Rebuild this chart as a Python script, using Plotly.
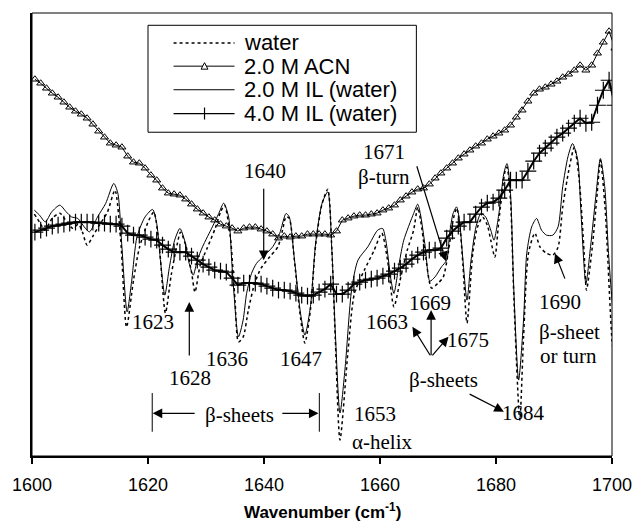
import plotly.graph_objects as go

# ---------------- data (second-derivative signal, arbitrary units) ----------------
# 2.0 M ACN and 4.0 M IL are sampled every 1 cm-1 starting at 1600.5
grid_x = [1600.5 + k for k in range(101)]

acn_y = [-79, -83, -88, -93, -97, -102, -107, -111, -114, -118,
         -124, -131, -137, -143, -145, -147, -156, -162, -163, -168,
         -175, -180, -188, -193, -194, -195, -199, -204, -209, -213,
         -217, -220, -224, -226, -228, -231, -228, -227, -227, -229,
         -231, -234, -238, -236, -237, -236, -236, -234, -234, -234,
         -234, -235, -231, -220, -218, -216, -215, -215, -214, -213,
         -210, -208, -205, -200, -196, -192, -189, -188, -184, -178,
         -173, -168, -163, -158, -154, -150, -146, -143, -139, -136,
         -133, -130, -125, -117, -110, -101, -93, -89, -87, -84,
         -81, -77, -74, -70, -65, -70, -65, -53, -42, -31,
         -48]

il4_y = [-232, -230, -228, -226, -225, -224, -223, -222, -222, -222,
         -222, -223, -223, -224, -224, -226, -233, -235, -235, -237,
         -239, -240, -245, -249, -252, -252, -252, -256, -260, -264,
         -267, -270, -271, -272, -278, -285, -283, -283, -283, -284,
         -286, -288, -290, -290, -291, -293, -295, -296, -295, -292,
         -289, -284, -294, -294, -290, -284, -282, -280, -279, -278,
         -276, -274, -271, -268, -264, -259, -255, -252, -250, -250,
         -248, -238, -231, -226, -222, -222, -214, -207, -203, -202,
         -198, -190, -180, -180, -180, -171, -161, -153, -148, -143,
         -137, -133, -128, -123, -118, -123, -122, -105, -90, -80,
         -105]

il2_x = [1600.4, 1601.3, 1602.3, 1603.4, 1604.8, 1605.9, 1606.8, 1607.9, 1609.0, 1609.9,
         1611.3, 1612.7, 1614.1, 1614.8, 1615.5, 1616.4, 1617.2, 1618.1, 1619.5, 1620.8,
         1621.5, 1622.2, 1622.9, 1623.7, 1624.6, 1625.5, 1626.3, 1627.1, 1627.8, 1628.5,
         1629.4, 1631.1, 1632.2, 1633.05, 1633.9, 1634.5, 1635.6, 1636.4, 1637.0, 1637.85,
         1638.7, 1639.8, 1641.5, 1642.7, 1643.8, 1644.35, 1645.2, 1646.3, 1647.05, 1648.0,
         1648.9, 1650.0, 1651.0, 1651.7, 1652.3, 1653.1, 1654.0, 1655.1, 1656.2, 1657.9,
         1659.6, 1660.45, 1661.0, 1661.9, 1662.4, 1663.3, 1664.1, 1665.8, 1666.5, 1666.95,
         1667.8, 1668.6, 1669.5, 1670.6, 1671.5, 1672.0, 1672.6, 1673.2, 1673.7, 1674.3,
         1675.0, 1675.7, 1676.55, 1677.4, 1678.2, 1679.1, 1679.65, 1680.5, 1681.35, 1681.9,
         1682.5, 1683.05, 1683.9, 1684.75, 1685.3, 1686.15, 1687.0, 1687.85, 1688.7, 1689.8,
         1690.7, 1691.5, 1692.4, 1693.2, 1694.1, 1694.6, 1695.5, 1696.3, 1697.2, 1698.0,
         1698.75, 1699.4, 1700.0, 1700.5]
il2_y = [-210, -215, -221.7, -211.7, -205, -211.7, -216.7, -218.3, -226.7, -231.7,
         -216.7, -203.3, -183.3, -193, -246.7, -311.7, -280, -236.7, -216.7, -209.3,
         -223.3, -263.3, -295, -266.7, -240, -228.3, -240, -263.3, -275, -260,
         -246.7, -226.7, -213.3, -203, -216.7, -266.7, -336.7, -320, -293.3, -273.3,
         -263.3, -256.7, -246.7, -233.3, -213.3, -216.7, -256.7, -313.3, -335, -306.7,
         -243.3, -203.3, -191.7, -250, -333, -413, -366.7, -290, -260, -246.7,
         -230, -228.3, -240, -280, -293.3, -263.3, -240, -213.3, -204, -213.3,
         -246.7, -281, -276.7, -266.7, -260, -233.3, -213.3, -206.7, -220, -260,
         -300, -260, -226.7, -213.3, -216.7, -230, -240, -213.3, -173.3, -163.3,
         -193.3, -286.7, -380, -320, -253.3, -226.7, -218.3, -230, -235, -235,
         -226.7, -186.7, -156.7, -143.3, -160, -206.7, -283.3, -246.7, -196.7, -158.3,
         -186.7, -253.3, -300, -330]

water_x = [1600.4, 1601.3, 1602.2, 1603.5, 1604.8, 1606.0, 1607.0, 1608.0, 1608.7, 1609.5,
           1610.5, 1611.5, 1613.0, 1614.3, 1615.3, 1616.3, 1617.5, 1618.5, 1620.0, 1621.0,
           1622.0, 1623.0, 1624.0, 1625.0, 1625.6, 1626.5, 1627.5, 1628.1, 1629.0, 1630.2,
           1631.6, 1632.5, 1633.2, 1634.2, 1635.0, 1635.6, 1636.4, 1637.3, 1638.4, 1639.5,
           1641.0, 1642.4, 1643.2, 1643.8, 1644.35, 1645.2, 1646.3, 1647.05, 1648.0, 1648.9,
           1650.0, 1651.0, 1651.7, 1652.3, 1653.1, 1654.5, 1655.6, 1657.3, 1659.0, 1660.3,
           1661.3, 1662.4, 1663.6, 1664.7, 1665.8, 1666.5, 1667.0, 1667.8, 1668.9, 1670.0,
           1670.9, 1671.75, 1672.6, 1673.2, 1673.7, 1674.3, 1675.0, 1676.0, 1676.8, 1677.7,
           1678.5, 1679.1, 1679.8, 1680.5, 1681.6, 1681.9, 1682.5, 1683.1, 1684.1, 1684.75,
           1685.6, 1686.7, 1687.6, 1688.7, 1689.8, 1690.7, 1691.5, 1692.65, 1693.5, 1694.35,
           1695.2, 1695.6, 1696.6, 1697.45, 1698.0, 1698.8, 1700.0, 1700.5]
water_y = [-214, -222, -230, -218, -213, -222, -228, -224, -232, -245,
           -236, -226, -212, -190, -240, -327, -280, -248, -222, -212,
           -250, -313, -275, -245, -232, -245, -272, -292, -265, -248,
           -228, -212, -205, -237, -300, -341.7, -337, -310, -283, -268,
           -256.7, -246.7, -230, -216.7, -218, -258, -318, -343, -310, -245,
           -204, -189, -250, -340, -440, -350, -293, -270, -250, -233,
           -260, -306.7, -276.7, -250, -230, -207, -220, -253, -288, -283,
           -277, -253, -220, -208, -222, -265, -323, -253, -227, -217,
           -225, -240, -257, -220, -170, -167, -200, -300, -420, -337,
           -253, -233, -247, -253, -255, -247, -207, -167, -147, -180,
           -253, -290, -247, -193, -160, -207, -340, -365]

series_names = ["water", "2.0 M ACN", "2.0 M IL (water)", "4.0 M IL (water)"]
x_ticks = [1600, 1620, 1640, 1660, 1680, 1700]

# ---------------- figure ----------------
fig = go.Figure()
fig.add_trace(go.Scatter(x=water_x, y=water_y, name=series_names[0], mode="lines",
                         line=dict(color="black", width=1.5, dash="dot", shape="spline", smoothing=0.7)))
fig.add_trace(go.Scatter(x=grid_x, y=acn_y, name=series_names[1], mode="lines+markers",
                         line=dict(color="black", width=1),
                         marker=dict(symbol="triangle-up-open", size=7, color="black",
                                     line=dict(width=1, color="black"))))
fig.add_trace(go.Scatter(x=il2_x, y=il2_y, name=series_names[2], mode="lines",
                         line=dict(color="black", width=1, shape="spline", smoothing=0.7)))
fig.add_trace(go.Scatter(x=grid_x, y=il4_y, name=series_names[3], mode="lines+markers",
                         line=dict(color="black", width=2),
                         marker=dict(symbol="cross-thin-open", size=12, color="black",
                                     line=dict(width=1.2, color="black"))))

# layout helpers: pixel position in the 644x524 canvas -> paper coordinates
L, R, T, B = 30, 620, 12.7, 456.0
def px(x):
    return (x - L) / (R - L)
def py(y):
    return (B - y) / (B - T)

serif = "Liberation Serif, Times New Roman, serif"
sans = "Liberation Sans, Arial, sans-serif"
AF = dict(family=serif, size=21, color="black")

labels = [
    ("1623", 1620.85, -322), ("1628", 1627.2, -378), ("1636", 1633.6, -359),
    ("1647", 1646.45, -359), ("1640", 1640.1, -171), ("1653", 1659.15, -414),
    ("α-helix", 1660.4, -442), ("1663", 1661.27, -322), ("1669", 1668.65, -303),
    ("1675", 1675.2, -340), ("β-sheets", 1670.9, -380), ("1684", 1684.75, -413),
    ("1690", 1691.0, -302), ("β-sheet", 1692.7, -332), ("or turn", 1692.5, -356),
    ("1671", 1660.76, -152), ("β-turn", 1660.7, -177), ("β-sheets", 1635.8, -415),
]
anns = []
for t, x, y in labels:
    anns.append(dict(text=t, x=x, y=y, xref="x", yref="y", showarrow=False,
                     font=AF, xanchor="center", yanchor="middle"))

arrows = [  # (tail x, tail y, tip x, tip y)
    (1627.12, -357, 1627.12, -302),
    (1639.95, -187, 1639.95, -260),
    (1666.27, -164.5, 1671.36, -261),
    (1668.81, -356.7, 1668.81, -310),
    (1668.81, -356.7, 1665.59, -326.7),
    (1668.81, -356.7, 1671.81, -336.7),
    (1675.2, -393.3, 1681.36, -411.7),
    (1691.98, -280, 1690.17, -253.3),
    (1628.3, -413.3, 1620.8, -413.3),
    (1642.9, -413.3, 1649.4, -413.3),
]
for ax_, ay_, x, y in arrows:
    anns.append(dict(text="", x=x, y=y, ax=ax_, ay=ay_, xref="x", yref="y",
                     axref="x", ayref="y", showarrow=True, arrowhead=2,
                     arrowsize=1.6, arrowwidth=1.2, arrowcolor="black"))

shapes = [
    dict(type="rect", xref="paper", yref="paper", x0=0, y0=0, x1=1, y1=1,
         line=dict(color="black", width=1)),
    dict(type="line", xref="x", yref="y", x0=1620.73, x1=1620.73, y0=-393, y1=-431.7,
         line=dict(color="black", width=1)),
    dict(type="line", xref="x", yref="y", x0=1649.54, x1=1649.54, y0=-393, y1=-431.7,
         line=dict(color="black", width=1)),
]

# ---- hand-drawn legend box (matches the reference's compact legend) ----
shapes.append(dict(type="rect", xref="paper", yref="paper", x0=px(148), x1=px(421),
                   y0=py(132), y1=py(25), line=dict(color="black", width=1),
                   fillcolor="white", layer="above"))
rows = [42.7, 65.9, 89.5, 113.3]
styles = [dict(width=1.5, dash="dot"), dict(width=1), dict(width=1), dict(width=1.2)]
for r, st in zip(rows, styles):
    shapes.append(dict(type="line", xref="paper", yref="paper", x0=px(174), x1=px(236),
                       y0=py(r), y1=py(r), line=dict(color="black", **st), layer="above"))
# triangle marker for ACN
cx, cy = 205.5, rows[1]
tri = "M{},{} L{},{} L{},{} Z".format(px(cx - 3.5), py(cy + 3), px(cx + 3.5), py(cy + 3),
                                      px(cx), py(cy - 3.5))
shapes.append(dict(type="path", xref="paper", yref="paper", path=tri,
                   line=dict(color="black", width=1), fillcolor="white", layer="above"))
# cross marker for 4.0 M IL
cx, cy = 205.5, rows[3]
shapes.append(dict(type="line", xref="paper", yref="paper", x0=px(cx), x1=px(cx),
                   y0=py(cy - 6), y1=py(cy + 6), line=dict(color="black", width=1.2), layer="above"))
for name, r in zip(series_names, rows):
    anns.append(dict(text=name, xref="paper", yref="paper", x=px(244), y=py(r),
                     xanchor="left", yanchor="middle", showarrow=False,
                     font=dict(family=sans, size=22, color="black")))

# x-axis title placed at the reference position
anns.append(dict(text="<b>Wavenumber (cm<sup>-1</sup>)</b>", xref="paper", yref="paper",
                 x=0.5, y=py(511), xanchor="center", yanchor="middle", showarrow=False,
                 font=dict(family=sans, size=17, color="black")))

fig.update_layout(
    width=644, height=524,
    margin=dict(l=30, r=24, t=13, b=68),
    paper_bgcolor="white", plot_bgcolor="white",
    showlegend=False,
    annotations=anns, shapes=shapes,
    xaxis=dict(range=[1600, 1700], tickvals=x_ticks, ticks="outside", ticklen=6,
               tickwidth=1.5, tickcolor="black", showline=True, linecolor="black",
               linewidth=2, showgrid=False, zeroline=False, ticklabelstandoff=5,
               tickfont=dict(family=sans, size=18, color="black")),
    yaxis=dict(range=[-456, -12.7], showticklabels=False, ticks="", showgrid=False,
               zeroline=False, showline=True, linecolor="black", linewidth=1.5),
)

fig.write_html("out.html")
